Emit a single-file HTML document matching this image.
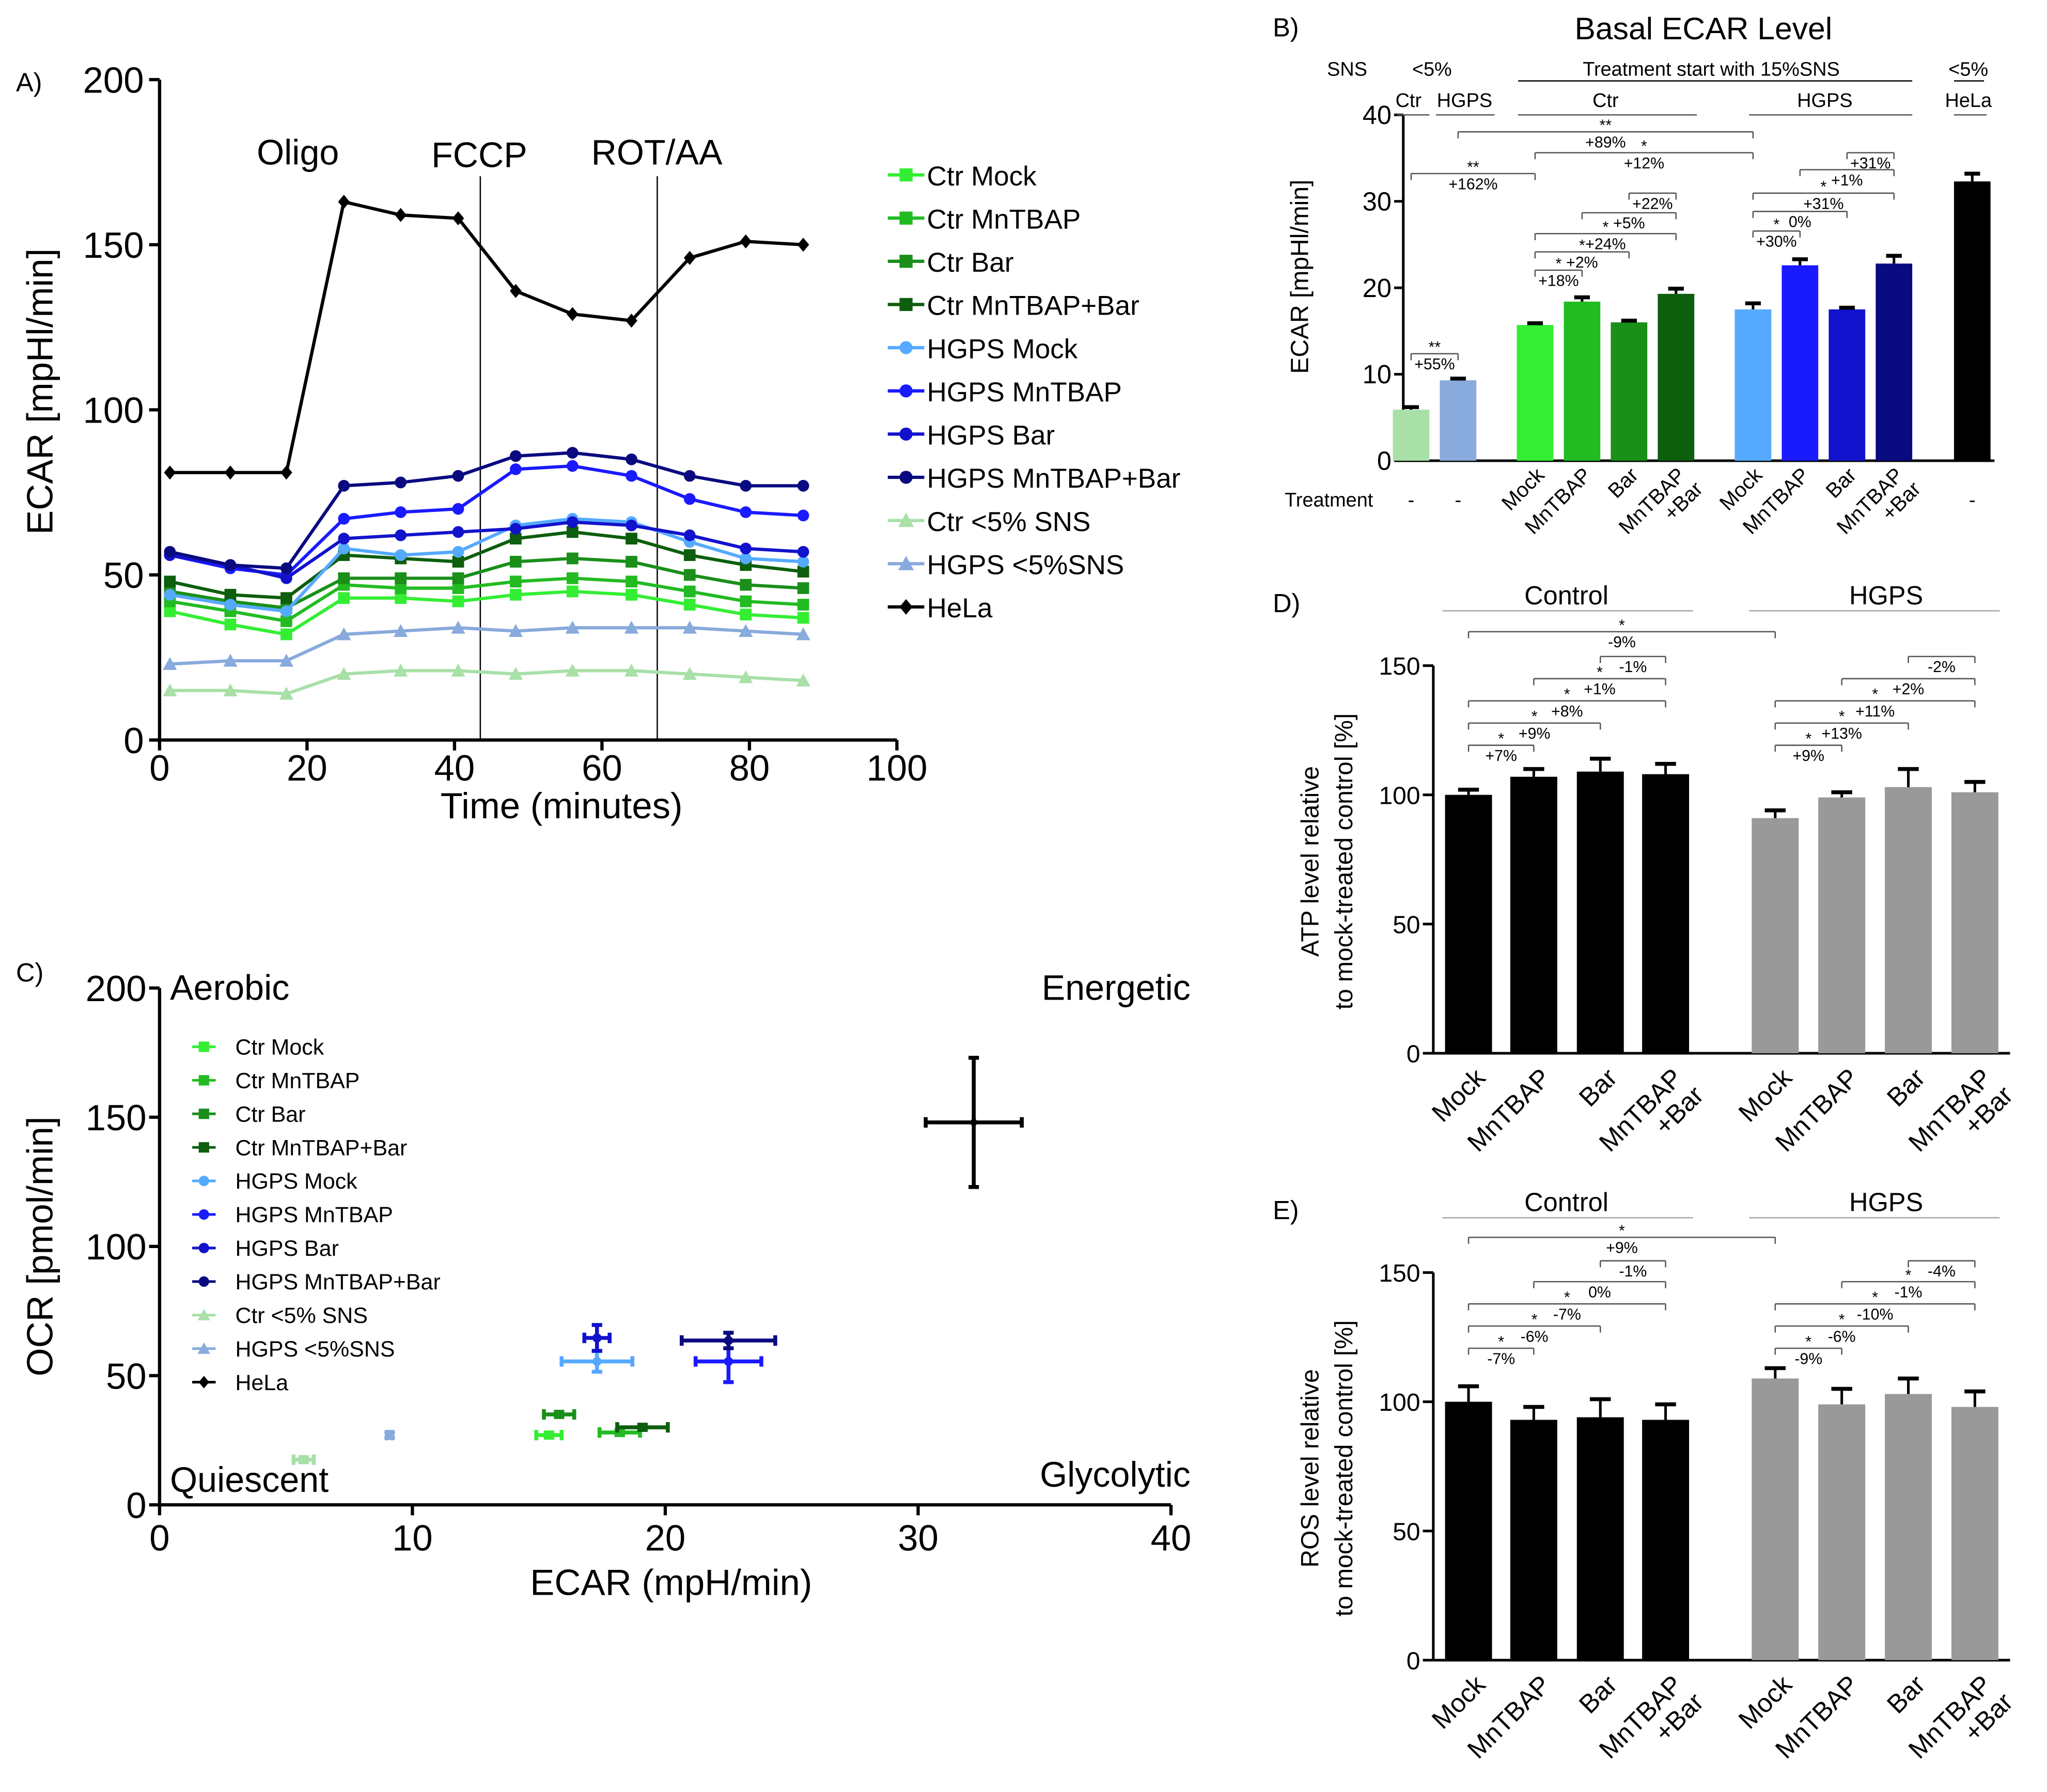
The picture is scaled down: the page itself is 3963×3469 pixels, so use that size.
<!DOCTYPE html>
<html><head><meta charset="utf-8">
<style>
html,body{margin:0;padding:0;background:#fff;}
svg{display:block;font-family:"Liberation Sans",sans-serif;}
</style></head>
<body>
<svg id="fig" width="3963" height="3469" viewBox="0 0 1568 1373" xmlns="http://www.w3.org/2000/svg"></svg>
<script>
// ---------- DATA ----------
const timePoints = [1.4, 9.6, 17.2, 25, 32.7, 40.5, 48.3, 56, 64, 71.9, 79.5, 87.3];
const seriesNames = ["Ctr Mock","Ctr MnTBAP","Ctr Bar","Ctr MnTBAP+Bar","HGPS Mock","HGPS MnTBAP","HGPS Bar","HGPS MnTBAP+Bar","Ctr <5% SNS","HGPS <5%SNS","HeLa"];
const ctrMock = [39,35,32,43,43,42,44,45,44,41,38,37];
const ctrMnTBAP = [42,39,36,47,46,46,48,49,48,45,42,41];
const ctrBar = [45,42,40,49,49,49,54,55,54,50,47,46];
const ctrMnTBAPBar = [48,44,43,56,55,54,61,63,61,56,53,51];
const hgpsMock = [44,41,39,58,56,57,65,67,66,60,55,54];
const hgpsMnTBAP = [56,52,50,67,69,70,82,83,80,73,69,68];
const hgpsBar = [56,53,49,61,62,63,64,66,65,62,58,57];
const hgpsMnTBAPBar = [57,53,52,77,78,80,86,87,85,80,77,77];
const ctrLow = [15,15,14,20,21,21,20,21,21,20,19,18];
const hgpsLow = [23,24,24,32,33,34,33,34,34,34,33,32];
const hela = [81,81,81,163,159,158,136,129,127,146,151,150];
const yTicksA = [0,50,100,150,200];
const xTicksA = [0,20,40,60,80,100];
// panel C
const ecarC = [15.4,18.2,15.8,19.1,17.3,22.5,17.3,22.5,5.7,9.1,32.2];
const ocrC = [27,28,35,30,55.5,55.5,64.6,63.6,17.5,27,148];
const ecarErrC = [0.5,0.8,0.6,1.0,1.4,1.3,0.5,1.85,0.4,0.1,1.9];
const ocrErrC = [1,1,1,1,4,8,5,3,1,1,25];
const xTicksC = [0,10,20,30,40];
const yTicksC = [0,50,100,150,200];
// panel B
const barsB = [5.9,9.3,15.7,18.4,16,19.3,17.5,22.6,17.5,22.8,32.3];
const errB = [0.3,0.2,0.2,0.5,0.2,0.6,0.7,0.7,0.2,0.9,0.9];
const yTicksB = [0,10,20,30,40];
// panel D/E
const barsD = [100,107,109,108,91,99,103,101];
const errD = [2,3,5,4,3,2,7,4];
const barsE = [100,93,94,93,109,99,103,98];
const errE = [6,5,7,6,4,6,6,6];
const yTicksDE = [0,50,100,150];
const barLabels = ["Mock","MnTBAP","Bar","MnTBAP|+Bar"];

const colors = ["#33ee33","#22bb22","#1a8f1a","#0d5e0d","#55aaff","#1a1aff","#1212cc","#0a0a80","#a8e0a8","#88aadd","#000"];
const allSeries = [ctrMock,ctrMnTBAP,ctrBar,ctrMnTBAPBar,hgpsMock,hgpsMnTBAP,hgpsBar,hgpsMnTBAPBar,ctrLow,hgpsLow,hela];
const markers = ["s","s","s","s","c","c","c","c","t","t","d"];

const S = document.getElementById('fig');
const NS = "http://www.w3.org/2000/svg";
function mk(tag, attrs, name, parent){
  const el = document.createElementNS(NS, tag);
  for (const k in attrs) el.setAttribute(k, attrs[k]);
  
  
  (parent||S).appendChild(el);
  return el;
}
function txt(x,y,s,size,name,anchor,extra){
  const a = Object.assign({x:x,y:y,'font-size':size,'text-anchor':anchor||'start',fill:'#000'}, extra||{});
  const t = mk('text', a, name);
  t.textContent = s;
  return t;
}
function line(x1,y1,x2,y2,name,w,c){
  return mk('line',{x1:x1,y1:y1,x2:x2,y2:y2,stroke:c||'#000','stroke-width':w||1},name);
}
function marker(type,x,y,c,r,name){
  if(type==='s') return mk('rect',{x:x-r,y:y-r,width:2*r,height:2*r,fill:c},name);
  if(type==='c') return mk('circle',{cx:x,cy:y,r:r,fill:c},name);
  if(type==='t') return mk('polygon',{points:`${x},${y-r*1.2} ${x-r*1.2},${y+r} ${x+r*1.2},${y+r}`,fill:c},name);
  return mk('polygon',{points:`${x},${y-r*1.2} ${x+r},${y} ${x},${y+r*1.2} ${x-r},${y}`,fill:c},name);
}

// ---------- PANEL A ----------
const ax = v => 122 + v*5.65;
const ay = v => 567 - v*2.53;
txt(12,70,"A)",20,"panel-a-label");
line(122,61,122,567,"a-y-axis",2.5); line(122,567,687,567,"a-x-axis",2.5);
yTicksA.forEach(v=>{ line(114,ay(v),122,ay(v),"a-y-tick",2.5); txt(110,ay(v)+10,v,28,"a-y-tick-label","end"); });
xTicksA.forEach(v=>{ line(ax(v),567,ax(v),575,"a-x-tick",2.5); txt(ax(v),598,v,28,"a-x-tick-label","middle"); });
txt(40,300,"ECAR [mpHl/min]",28,"a-y-axis-title","middle",{transform:"rotate(-90 40 300)"});
txt(430,627,"Time (minutes)",28,"a-x-axis-title","middle");
line(ax(43.5),135,ax(43.5),567,"fccp-injection-line",1);
line(ax(67.5),135,ax(67.5),567,"rotaa-injection-line",1);
txt(228,126,"Oligo",27,"oligo-label","middle");
txt(367,128,"FCCP",27,"fccp-label","middle");
txt(503,126,"ROT/AA",27,"rotaa-label","middle");
allSeries.forEach((s,i)=>{
  const pts = s.map((v,j)=>ax(timePoints[j])+","+ay(v)).join(" ");
  mk('polyline',{points:pts,fill:'none',stroke:colors[i],'stroke-width':2.5},"a-line-"+i);
  s.forEach((v,j)=>marker(markers[i],ax(timePoints[j]),ay(v),colors[i],4.5,"a-point"));
  const ly = 134 + i*33.1;
  line(680,ly,708,ly,"a-legend-line",2.5,colors[i]);
  marker(markers[i],694,ly,colors[i],5,"a-legend-marker");
  txt(710,ly+8,seriesNames[i],21,"a-legend-entry");
});

// ---------- PANEL C ----------
const cx = v => 122 + v*19.375;
const cy = v => 1153 - v*1.98;
txt(12,752,"C)",20,"panel-c-label");
line(122,757,122,1153,"c-y-axis",2.5); line(122,1153,897,1153,"c-x-axis",2.5);
yTicksC.forEach(v=>{ line(114,cy(v),122,cy(v),"c-y-tick",2.5); txt(112,cy(v)+10,v,28,"c-y-tick-label","end"); });
xTicksC.forEach(v=>{ line(cx(v),1153,cx(v),1161,"c-x-tick",2.5); txt(cx(v),1188,v,28,"c-x-tick-label","middle"); });
txt(40,955,"OCR [pmol/min]",28,"c-y-axis-title","middle",{transform:"rotate(-90 40 955)"});
txt(514,1222,"ECAR (mpH/min)",28,"c-x-axis-title","middle");
txt(130,766,"Aerobic",27,"aerobic-label");
txt(912,766,"Energetic",27,"energetic-label","end");
txt(130,1143,"Quiescent",27,"quiescent-label");
txt(912,1139,"Glycolytic",27,"glycolytic-label","end");
ecarC.forEach((e,i)=>{
  const x=cx(e), y=cy(ocrC[i]), c=colors[i];
  const x1=cx(e-ecarErrC[i]), x2=cx(e+ecarErrC[i]);
  const y1=cy(ocrC[i]+ocrErrC[i]), y2=cy(ocrC[i]-ocrErrC[i]);
  line(x1,y,x2,y,"c-xerr",3,c); line(x1,y-4,x1,y+4,"c-xerr-cap",3,c); line(x2,y-4,x2,y+4,"c-xerr-cap",3,c);
  line(x,y1,x,y2,"c-yerr",3,c); line(x-4,y1,x+4,y1,"c-yerr-cap",3,c); line(x-4,y2,x+4,y2,"c-yerr-cap",3,c);
  marker(markers[i],x,y,c,3.5,"c-point");
  const ly = 802 + i*25.7;
  line(147,ly,165,ly,"c-legend-line",2,c);
  marker(markers[i],156,ly,c,4,"c-legend-marker");
  txt(180,ly+6,seriesNames[i],17,"c-legend-entry");
});

// ---------- PANEL B ----------
const by = v => 353 - v*6.625;
const bxs = [1081,1117,1176,1212,1248,1284,1343,1379,1415,1451,1511];
const bcolors = ["#a8e0a8","#88aadd","#33ee33","#22bb22","#1a8f1a","#0d5e0d","#55aaff","#1a1aff","#1212cc","#0a0a80","#000"];
txt(975,28,"B)",20,"panel-b-label");
txt(1305,30,"Basal ECAR Level",24,"b-title","middle");
line(1075,88,1075,353,"b-y-axis",2); line(1075,353,1528,353,"b-x-axis",2);
yTicksB.forEach(v=>{ line(1068,by(v),1075,by(v),"b-y-tick",2); txt(1066,by(v)+7,v,20,"b-y-tick-label","end"); });
txt(1002,212,"ECAR [mpHl/min]",19,"b-y-axis-title","middle",{transform:"rotate(-90 1002 212)"});
barsB.forEach((v,i)=>{
  const x=bxs[i];
  mk('rect',{x:x-14,y:by(v),width:28,height:353-by(v),fill:bcolors[i]},"b-bar");
  const ey=by(v+errB[i]);
  line(x,by(v),x,ey,"b-errbar",2); line(x-6,ey,x+6,ey,"b-errcap",3);
});
txt(1032,58,"SNS",15,"b-sns-label","middle");
txt(1097,58,"<5%",15,"b-low-sns","middle");
txt(1311,58,"Treatment start with 15%SNS",15,"b-treatment-header","middle");
txt(1508,58,"<5%",15,"b-hela-sns","middle");
line(1163,62,1465,62,"b-header-line",1);
line(1497,62,1520,62,"b-header-line",1);
txt(1079,82,"Ctr",15,"b-group","middle"); txt(1122,82,"HGPS",15,"b-group","middle");
txt(1230,82,"Ctr",15,"b-group","middle"); txt(1398,82,"HGPS",15,"b-group","middle"); txt(1508,82,"HeLa",15,"b-group","middle");
[[1070,1095],[1100,1145],[1163,1300],[1340,1465],[1497,1522]].forEach(p=>line(p[0],88,p[1],88,"b-group-line",1,"#555"));
txt(1018,388,"Treatment",15,"b-treatment-label","middle");
[1081,1117,1511].forEach(x=>txt(x,388,"-",15,"b-no-treatment","middle"));
const treatB = ["Mock","MnTBAP","Bar","MnTBAP|+Bar","Mock","MnTBAP","Bar","MnTBAP|+Bar"];
treatB.forEach((s,i)=>{
  const x=bxs[i+2]+8, y=365;
  const parts=s.split("|");
  const t = txt(x,y,parts[0],16,"b-treatment-tick","end",{transform:`rotate(-45 ${x} ${y})`});
  if(parts[1]) txt(x+2,y+17,parts[1],16,"b-treatment-tick","end",{transform:`rotate(-45 ${x} ${y})`});
});
function bracket(x1,x2,y,star,pct,name,fs){
  fs=fs||12;
  line(x1,y,x2,y,name,1,"#555"); line(x1,y,x1,y+5,name,1,"#555"); line(x2,y,x2,y+5,name,1,"#555");
  const m=(x1+x2)/2;
  if(star) txt(m,y-1,star,fs,name+"-star","middle");
  txt(m,y+12,pct,fs,name+"-pct","middle");
}
bracket(1081,1117,271,"**","+55%","b-bracket");
bracket(1081,1176,133,"**","+162%","b-bracket");
bracket(1117,1343,101,"**","+89%","b-bracket");
bracket(1176,1343,117,"*","+12%","b-bracket");
bracket(1176,1212,207,"*","+18%","b-bracket");
bracket(1176,1248,193,"*","+2%","b-bracket");
bracket(1176,1284,179,"*","+24%","b-bracket");
bracket(1212,1284,163,"","+5%","b-bracket");
bracket(1248,1284,148,"","+22%","b-bracket");
bracket(1343,1379,177,"*","+30%","b-bracket");
bracket(1343,1415,162,"","0%","b-bracket");
bracket(1343,1451,148,"*","+31%","b-bracket");
bracket(1379,1451,130,"","+1%","b-bracket");
bracket(1415,1451,117,"","+31%","b-bracket");

// ---------- PANELS D/E ----------
const dxs=[1125,1175,1226,1276,1360,1411,1462,1513];
function barPanel(letter, top, vals, errs, ylab, brs){
  const base = top+297;
  const py = v => base - v*1.98;
  const p = letter.toLowerCase();
  txt(975,top-41,letter+")",20,"panel-"+p+"-label");
  txt(1200,top-47,"Control",20,p+"-control-header","middle");
  txt(1445,top-47,"HGPS",20,p+"-hgps-header","middle");
  line(1105,top-42,1297,top-42,p+"-group-line",1,"#aaa");
  line(1340,top-42,1532,top-42,p+"-group-line",1,"#aaa");
  line(1098,top,1098,base,p+"-y-axis",2); line(1098,base,1540,base,p+"-x-axis",2);
  yTicksDE.forEach(v=>{ line(1090,py(v),1098,py(v),p+"-y-tick",2); txt(1088,py(v)+7,v,19,p+"-y-tick-label","end"); });
  const ycen = top+150;
  txt(1010,ycen,ylab,19,p+"-y-axis-title","middle",{transform:`rotate(-90 1010 ${ycen})`});
  txt(1036,ycen,"to mock-treated control [%]",19,p+"-y-axis-title-2","middle",{transform:`rotate(-90 1036 ${ycen})`});
  vals.forEach((v,i)=>{
    const x=dxs[i];
    mk('rect',{x:x-18,y:py(v),width:36,height:base-py(v),fill:i<4?'#000':'#999'},p+"-bar");
    const ey=py(v+errs[i]);
    line(x,py(v),x,ey,p+"-errbar",2); line(x-8,ey,x+8,ey,p+"-errcap",3);
    const parts=barLabels[i%4].split("|");
    const lx=x+14, ly=base+20;
    txt(lx,ly,parts[0],20,p+"-x-tick-label","end",{transform:`rotate(-45 ${lx} ${ly})`});
    if(parts[1]) txt(lx+2,ly+21,parts[1],20,p+"-x-tick-label","end",{transform:`rotate(-45 ${lx} ${ly})`});
  });
  brs.forEach(b=>bracket(b[0],b[1],b[2],b[3],b[4],p+"-bracket"));
}
barPanel("D",510,barsD,errD,"ATP level relative",[
  [1125,1360,484,"*","-9%"],[1226,1276,503,"","-1%"],[1175,1276,520,"*","+1%"],
  [1125,1276,537,"*","+8%"],[1125,1226,554,"*","+9%"],[1125,1175,571,"*","+7%"],
  [1462,1513,503,"","-2%"],[1411,1513,520,"","+2%"],[1360,1513,537,"*","+11%"],
  [1360,1462,554,"*","+13%"],[1360,1411,571,"*","+9%"]]);
barPanel("E",975,barsE,errE,"ROS level relative",[
  [1125,1360,948,"*","+9%"],[1226,1276,966,"","-1%"],[1175,1276,982,"","0%"],
  [1125,1276,999,"*","-7%"],[1125,1226,1016,"*","-6%"],[1125,1175,1033,"*","-7%"],
  [1462,1513,966,"","-4%"],[1411,1513,982,"*","-1%"],[1360,1513,999,"*","-10%"],
  [1360,1462,1016,"*","-6%"],[1360,1411,1033,"*","-9%"]]);
</script>
</body></html>
